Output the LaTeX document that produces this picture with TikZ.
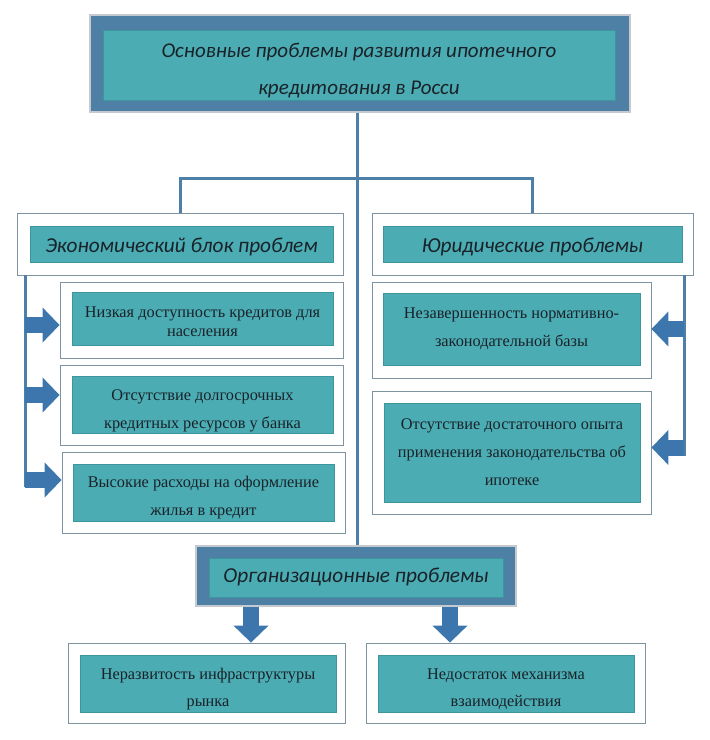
\documentclass[tikz,border=0pt]{standalone}
\usepackage{fontspec}
\setmainfont{Liberation Serif}
\newfontfamily\headfont{Carlito}
\usetikzlibrary{arrows.meta}

\definecolor{tealbox}{HTML}{4BACB3}
\definecolor{tealedge}{HTML}{3D969D}
\definecolor{frameblue}{HTML}{4E7FA5}
\definecolor{linkblue}{HTML}{4E7FA9}
\definecolor{arrowblue}{HTML}{3C76AD}
\definecolor{boxedge}{HTML}{7D939F}
\definecolor{shadowgray}{HTML}{C4CACF}
\definecolor{ink}{HTML}{1A2229}

% extra room above the first line, to set the text a little lower
\newcommand\pushdown[1]{\rule{0pt}{\dimexpr0.72em+2\dimexpr#1\relax\relax}}

\tikzset{
  outerbox/.style 2 args={draw=boxedge, line width=0.8pt, fill=white,
    minimum width=#1, minimum height=#2, inner sep=0pt},
  framebox/.style 2 args={draw=shadowgray, line width=2pt, fill=frameblue,
    minimum width=#1, minimum height=#2, inner sep=0pt},
  tealbox/.style 2 args={draw=tealedge, line width=0.6pt, fill=tealbox,
    minimum width=#1, minimum height=#2, inner sep=0pt, align=center, text=ink},
  headtext/.style={font=\headfont\itshape\fontsize{21.3}{37}\selectfont},
  itemtext/.style={font=\fontsize{16.3}{28}\selectfont},
  link/.style={draw=linkblue, line width=3pt},
  blockarrow/.style={draw=arrowblue, line width=16pt,
    -{Triangle[length=17pt,width=34pt]}}
}

\begin{document}
\begin{tikzpicture}[x=1pt,y=-1pt]
  \useasboundingbox (0,0) rectangle (710,740);

  % title
  \node[framebox={540pt}{97pt}] (title) at (360,63.5) {};
  \node[tealbox={512pt}{70pt}, headtext, font=\headfont\itshape\fontsize{21}{37}\selectfont] (titlein) at (359,65)
    {\pushdown{5pt}Основные проблемы развития ипотечного\\кредитования в Росси};

  % spine and branches
  \coordinate (hub) at (357,178);
  \coordinate (lrail) at (25,0);
  \coordinate (rrail) at (684,0);
  \coordinate (ldrop) at (251,0);
  \coordinate (rdrop) at (450,0);

  \node[outerbox={326pt}{62pt}] (eco) at (180,244) {};
  \node[tealbox={303pt}{36pt}, headtext] (ecoin) at (181.5,244) {\pushdown{3pt}Экономический блок проблем};
  \node[outerbox={321pt}{62pt}] (jur) at (532.5,244) {};
  \node[tealbox={299pt}{36pt}, headtext] (jurin) at (532.5,244) {\pushdown{3pt}Юридические проблемы};

  \node[framebox={320pt}{60pt}] (org) at (356,576) {};
  \node[tealbox={294pt}{39pt}, headtext] (orgin) at (356,577.5) {Организационные проблемы};

  \draw[link] (title.south -| hub) -- (org.north -| hub);
  \draw[link] (eco.north) |- (hub) -| (jur.north);

  % economic items
  \node[outerbox={283pt}{76pt}] (eco1) at (201.5,320) {};
  \node[tealbox={261pt}{53pt}, itemtext, font=\fontsize{16.3}{19}\selectfont] (eco1in) at (202.5,318.5)
    {\pushdown{3pt}Низкая доступность кредитов для\\населения};
  \node[outerbox={283pt}{80pt}] (eco2) at (201.5,405) {};
  \node[tealbox={261pt}{57pt}, itemtext] (eco2in) at (202.5,404.5)
    {\pushdown{6pt}Отсутствие долгосрочных\\кредитных ресурсов у банка};
  \node[outerbox={283pt}{81pt}] (eco3) at (203.5,492.5) {};
  \node[tealbox={261pt}{57pt}, itemtext] (eco3in) at (203.5,492.5)
    {\pushdown{5pt}Высокие расходы на оформление\\жилья в кредит};

  \draw[link] (eco.south -| lrail) -- ([yshift=5.5pt]eco3.west -| lrail);
  \draw[blockarrow] ([yshift=-5pt]eco1.west -| lrail) -- ([yshift=-5pt]eco1.west);
  \draw[blockarrow] ([yshift=10pt]eco2.west -| lrail) -- ([yshift=10pt]eco2.west);
  \draw[blockarrow] ([yshift=12.5pt]eco3.west -| lrail) -- ([yshift=12.5pt]eco3.west);

  % legal items
  \node[outerbox={279pt}{96pt}] (jur1) at (511.5,330) {};
  \node[tealbox={257pt}{72pt}, itemtext] (jur1in) at (511.5,329)
    {Незавершенность нормативно-\\законодательной базы};
  \node[outerbox={279pt}{123pt}] (jur2) at (511.5,452.5) {};
  \node[tealbox={256pt}{99pt}, itemtext] (jur2in) at (512,452.5)
    {Отсутствие достаточного опыта\\применения законодательства об\\ипотеке};

  \draw[link] (jur.south -| rrail) -- ([yshift=-3pt]jur2.east -| rrail);
  \draw[blockarrow] ([yshift=1pt]jur1.east -| rrail) -- ([yshift=1pt]jur1.east);
  \draw[blockarrow] ([yshift=5pt]jur2.east -| rrail) -- ([yshift=5pt]jur2.east);

  % organisational items
  \node[outerbox={277pt}{80pt}] (org1) at (206.5,683) {};
  \node[tealbox={256pt}{57pt}, itemtext, font=\fontsize{16.3}{27}\selectfont] (org1in) at (208,683.5)
    {\pushdown{5pt}Неразвитость инфраструктуры\\рынка};
  \node[outerbox={279pt}{80pt}] (org2) at (505.5,683) {};
  \node[tealbox={256pt}{57pt}, itemtext, font=\fontsize{16.3}{27}\selectfont] (org2in) at (506,683.5)
    {\pushdown{5pt}Недостаток механизма\\взаимодействия};

  \draw[blockarrow] (org.south -| ldrop) -- (org1.north -| ldrop);
  \draw[blockarrow] (org.south -| rdrop) -- (org2.north -| rdrop);
\end{tikzpicture}
\end{document}
